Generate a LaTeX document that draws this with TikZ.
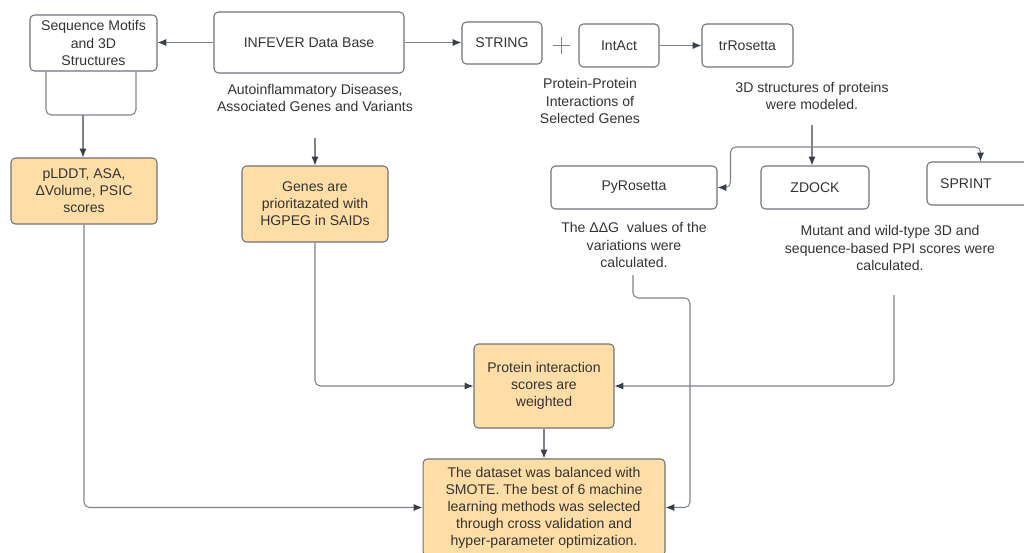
\documentclass[tikz,border=0pt]{standalone}
\usepackage{fontspec}
\setmainfont{Liberation Sans}
\usepackage{xcolor}
\usepackage{tikz}
\usetikzlibrary{arrows.meta, positioning, calc}
\definecolor{boxorange}{HTML}{FFDDA6}
\definecolor{edgegray}{HTML}{6E727A}
\definecolor{linegray}{HTML}{7E828A}
\definecolor{tipdark}{HTML}{3A404A}
\definecolor{txtdark}{HTML}{333333}

\begin{document}
\begin{tikzpicture}[
  x=0.02cm, y=-0.02cm,
  every node/.style={font=\fontsize{8}{9.7}\selectfont, text=txtdark},
  box/.style={draw=edgegray, line width=0.6pt, rounded corners=2.5pt,
              fill=white, inner sep=0pt, align=center},
  hot/.style={box, fill=boxorange},
  note/.style={align=center, inner sep=0pt},
  line/.style={draw=linegray, line width=0.6pt, rounded corners=3pt},
  arr/.style={line, -{Latex[length=5pt, width=4pt, color=tipdark]}},
  plussign/.style={minimum size=0.34cm, inner sep=0pt,
    path picture={\draw[linegray, line width=0.5pt]
      (path picture bounding box.north) -- (path picture bounding box.south)
      (path picture bounding box.west) -- (path picture bounding box.east);}}
]
\useasboundingbox (0,0) rectangle (1024,552);

%% top row
\node[box, minimum width=2.54cm, minimum height=1.12cm] (seq)     at (93.5,43)   {Sequence Motifs\\and 3D\\Structures};
\node[box, minimum width=3.8cm,  minimum height=1.22cm] (infever) at (309,42.5)  {INFEVER Data Base};
\node[box, minimum width=1.6cm,  minimum height=0.84cm] (string)  at (502,43)    {STRING};
\node[plussign] (plus) at (561,45) {};
\node[box, minimum width=1.6cm,  minimum height=0.86cm] (intact)  at (619,45.5)  {IntAct};
\node[box, minimum width=1.82cm, minimum height=0.86cm] (trros)   at (747.5,45.5) {trRosetta};

\node[note] (infnote) at (315,98)   {Autoinflammatory Diseases,\\Associated Genes and Variants};
\node[note] (ppinote) at (590,101)  {Protein-Protein\\Interactions of\\Selected Genes};
\node[note] (trnote)  at (812,95.5) {3D structures of proteins\\were modeled.};

%% middle row
\node[hot, minimum width=2.92cm, minimum height=1.32cm] (plddt) at (84,191)    {pLDDT, ASA,\\ΔVolume, PSIC\\scores};
\node[hot, minimum width=2.92cm, minimum height=1.52cm] (genes) at (315,204)   {Genes are\\prioritazated with\\HGPEG in SAIDs};
\node[box, minimum width=3.32cm, minimum height=0.86cm] (pyros)  at (634,187.5) {PyRosetta};
\node[box, minimum width=2.16cm, minimum height=0.86cm] (zdock)  at (815,187.5) {ZDOCK};
\node[box, minimum width=2.14cm, minimum height=0.86cm] (sprint) at (980.5,183.5) {SPRINT\hspace{0.58cm}};

\node[note] (pynote) at (634,245) {The ΔΔG\ \ values of the\\variations were\\calculated.};
\node[note] (zdnote) at (890,248) {Mutant and wild-type 3D and\\sequence-based PPI scores were\\calculated.};

%% bottom
\node[hot, minimum width=2.8cm,  minimum height=1.68cm] (prot) at (544,386)   {Protein interaction\\scores are\\weighted};
\node[hot, minimum width=4.84cm, minimum height=1.94cm] (data) at (544,507.5) {The dataset was balanced with\\SMOTE. The best of 6 machine\\learning methods was selected\\through cross validation and\\hyper-parameter optimization.};

%% free ends
\coordinate (seqjoin) at (83,115);
\coordinate (infdrop) at (315,138);
\coordinate (trdrop)  at (812,125);
\coordinate (split)   at (812,147);
\coordinate (pydrop)  at (633,275);
\coordinate (zddrop)  at (894,295);

%% connectors
\draw[arr] (infever.west) -- (infever.west -| seq.east);
\draw[arr] (infever.east) -- (infever.east -| string.west);
\foreach \a/\b in {intact/trros, prot/data}
  \draw[arr] (\a) -- (\b);

\draw[line] ([xshift=-0.95cm]seq.south) |- (seqjoin) -| ([xshift=0.85cm]seq.south);
\draw[arr] (seqjoin) -- (seqjoin |- plddt.north);
\draw[arr] (infdrop) -- (genes.north);

\draw[line] (trdrop) -- (split);
\draw[arr] (split) -- (split |- zdock.north);
\draw[arr] (split) -| (sprint.north);
\draw[arr] (split) -| ([xshift=0.26cm]pyros.east) -- (pyros.east);

\draw[arr] (plddt.south) |- (data.west);
\draw[arr] (genes.south) |- (prot.west);
\draw[arr] (zddrop) |- (prot.east);
\draw[arr] (pydrop) |- ++(57,23) |- (data.east);
\end{tikzpicture}
\end{document}
